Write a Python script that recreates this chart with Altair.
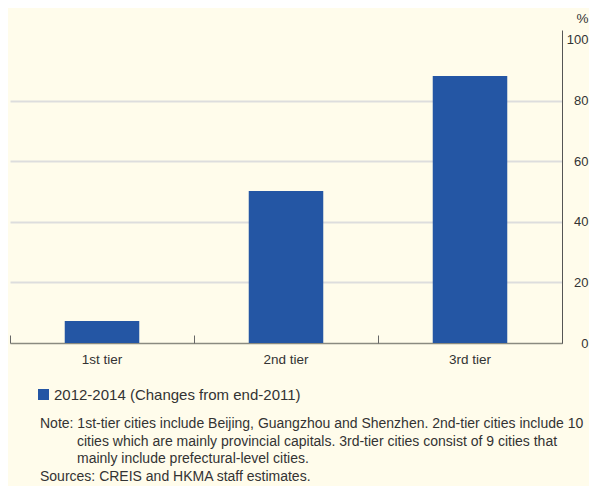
import altair as alt
import pandas as pd

tiers = ["1st tier", "2nd tier", "3rd tier"]
values = [7.3, 50.2, 88.1]
series_name = "2012-2014 (Changes from end-2011)"
y_ticks = [0, 20, 40, 60, 80, 100]
note_lines = [
    "Note: 1st-tier cities include Beijing, Guangzhou and Shenzhen. 2nd-tier cities include 10",
    "cities which are mainly provincial capitals. 3rd-tier cities consist of 9 cities that",
    "mainly include prefectural-level cities.",
]
sources_line = "Sources: CREIS and HKMA staff estimates."

df = pd.DataFrame({"tier": tiers, "value": values, "series": [series_name] * len(tiers)})
bounds = pd.DataFrame({"b": list(range(len(tiers) + 1))})

W, H = 552, 313
FONT = "Liberation Sans"
TXT = "#333333"
BG = "#FFFCEB"
BLUE = "#2456A4"

xscale = alt.Scale(domain=tiers, paddingInner=0.595, paddingOuter=0.2975)

bars = alt.Chart(df).mark_bar(color=BLUE).encode(
    x=alt.X("tier:N", scale=xscale, sort=tiers,
            axis=alt.Axis(orient="bottom", title=None, ticks=False, tickSize=0, labelAngle=0,
                          labelPadding=9, labelFontSize=13.5, labelColor=TXT, labelFont=FONT,
                          domainColor="#8a8a80", domainWidth=1.5, grid=False)),
    y=alt.Y("value:Q", scale=alt.Scale(domain=[0, 103.3], nice=False),
            axis=alt.Axis(orient="right", values=y_ticks, title="%", titleAngle=0,
                          titleX=26, titleY=-12, titleAlign="right", titleBaseline="middle",
                          titleFontSize=13.5, titleFontWeight="normal", titleColor=TXT, titleFont=FONT,
                          ticks=False, tickSize=0, labelAlign="right", labelPadding=26,
                          labelFontSize=13, labelColor=TXT, labelFont=FONT, labelBaseline="middle",
                          domainColor="#555555", domainWidth=1,
                          grid=True, gridWidth=2,
                          gridColor={"condition": {"test": "datum.value === 0 || datum.value === 100",
                                                   "value": "transparent"},
                                     "value": "#DDDDDD"})),
    color=alt.Color("series:N", scale=alt.Scale(domain=[series_name], range=[BLUE]),
                    legend=alt.Legend(orient="none", legendX=26, legendY=357, title=None,
                                      symbolType="square", symbolSize=121, symbolStrokeWidth=0,
                                      labelFontSize=15, labelColor=TXT, labelFont=FONT,
                                      labelOffset=3, labelLimit=0, padding=0)),
)

ticks_layer = alt.Chart(bounds).mark_rule(opacity=0).encode(
    x=alt.X("b:Q", scale=alt.Scale(domain=[0, len(tiers)], nice=False, zero=False),
            axis=alt.Axis(orient="top", offset=-H, title=None, labels=False, domain=False,
                          values=list(range(len(tiers) + 1)),
                          ticks=True, tickSize=8, tickColor="#666666",
                          tickWidth=1, grid=False)),
)

def text_line(t, x, y):
    return alt.Chart(pd.DataFrame({"t": [t]})).mark_text(
        align="left", baseline="middle", fontSize=14, font=FONT, color=TXT
    ).encode(text="t:N", x=alt.value(x), y=alt.value(y))

texts = [
    text_line(note_lines[0], 30, 394),
    text_line(note_lines[1], 67, 411.5),
    text_line(note_lines[2], 67, 429),
    text_line(sources_line, 30, 446.5),
]

chart = alt.layer(bars, ticks_layer, *texts).resolve_scale(x="independent").resolve_axis(
    x="independent"
).properties(
    width=W, height=H,
    autosize=alt.AutoSizeParams(type="none"),
    padding={"left": 2, "top": 22, "right": 27, "bottom": 143},
    background=BG,
).configure_view(stroke=None)

chart.save("out.html", embed_options={"renderer": "svg", "actions": False})
